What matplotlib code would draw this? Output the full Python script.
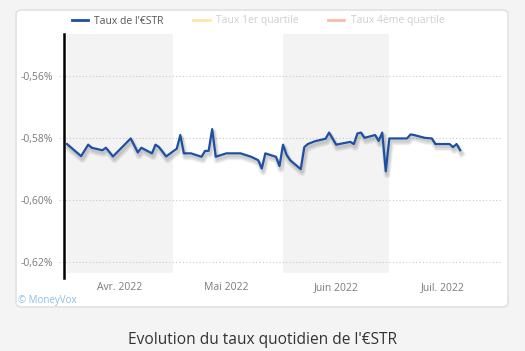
import numpy as np
import matplotlib.pyplot as plt
import matplotlib.dates as mdates
import matplotlib.patheffects as pe
from matplotlib.patches import FancyBboxPatch
from matplotlib.lines import Line2D
import datetime as dt

# daily €STR (in %)
dates = ['2022-04-01', '2022-04-05', '2022-04-07', '2022-04-08', '2022-04-11', '2022-04-12',
         '2022-04-14', '2022-04-19', '2022-04-21', '2022-04-22', '2022-04-25', '2022-04-26',
         '2022-04-27', '2022-04-29', '2022-05-02', '2022-05-03', '2022-05-04', '2022-05-06',
         '2022-05-09', '2022-05-10', '2022-05-11', '2022-05-12', '2022-05-13', '2022-05-16',
         '2022-05-20', '2022-05-23', '2022-05-25', '2022-05-26', '2022-05-27', '2022-05-30',
         '2022-05-31', '2022-06-01', '2022-06-02', '2022-06-03', '2022-06-06', '2022-06-07',
         '2022-06-08', '2022-06-10', '2022-06-13', '2022-06-14', '2022-06-16', '2022-06-20',
         '2022-06-21', '2022-06-22', '2022-06-23', '2022-06-24', '2022-06-27', '2022-06-28',
         '2022-06-29', '2022-06-30', '2022-07-01', '2022-07-06', '2022-07-07', '2022-07-08',
         '2022-07-11', '2022-07-13', '2022-07-14', '2022-07-18', '2022-07-19', '2022-07-20',
         '2022-07-21']
estr = [-0.5820, -0.5859, -0.5822, -0.5832, -0.5840, -0.5832,
        -0.5860, -0.5802, -0.5847, -0.5832, -0.5850, -0.5822,
        -0.5830, -0.5860, -0.5835, -0.5791, -0.5850, -0.5850,
        -0.5861, -0.5842, -0.5842, -0.5772, -0.5861, -0.5850,
        -0.5850, -0.5861, -0.5872, -0.5899, -0.5850, -0.5861,
        -0.5891, -0.5822, -0.5855, -0.5872, -0.5901, -0.5830,
        -0.5820, -0.5811, -0.5803, -0.5783, -0.5822, -0.5813,
        -0.5820, -0.5786, -0.5783, -0.5800, -0.5791, -0.5810,
        -0.5783, -0.5908, -0.5802, -0.5802, -0.5789, -0.5791,
        -0.5800, -0.5802, -0.5820, -0.5820, -0.5830, -0.5820,
        -0.5840]

yticks = [-0.56, -0.58, -0.60, -0.62]
ylabels = ['-0,56%', '-0,58%', '-0,60%', '-0,62%']
months = ['2022-04-16', '2022-05-16', '2022-06-16', '2022-07-16']
month_labels = ['Avr. 2022', 'Mai 2022', 'Juin 2022', 'Juil. 2022']
bands = [('2022-04-01', '2022-05-01'), ('2022-06-01', '2022-07-01')]

plt.rcParams['font.family'] = ['Open Sans', 'DejaVu Sans']

W, H = 525, 351
fig = plt.figure(figsize=(W / 100, H / 100), dpi=100)
fig.patch.set_facecolor('#f4f4f4')

# white card
card = FancyBboxPatch((16 / W, 1 - 307 / H), (508 - 16) / W, (307 - 10) / H,
                      boxstyle='round,pad=0,rounding_size=0.012',
                      transform=fig.transFigure, facecolor='white',
                      edgecolor='#e2e2e2', linewidth=1.2, zorder=-5)
fig.patches.append(card)

ax = fig.add_axes([64 / W, 1 - 278 / H, (500 - 64) / W, (278 - 34) / H])
ax.set_zorder(2)
ax.set_facecolor('none')

# soft drop shadow under the line
shadow = [pe.SimpleLineShadow(offset=(1, -2.5), shadow_color='black', alpha=0.05, linewidth=5),
          pe.SimpleLineShadow(offset=(1, -2.5), shadow_color='black', alpha=0.07, linewidth=3.5),
          pe.SimpleLineShadow(offset=(1, -2), shadow_color='black', alpha=0.08, linewidth=2),
          pe.Normal()]
x = [dt.datetime.fromisoformat(d) for d in dates]
ax.plot(x, estr, color='#1d4fa3', lw=1.6, zorder=3, path_effects=shadow)

for a, b in bands:
    ax.axvspan(dt.datetime.fromisoformat(a), dt.datetime.fromisoformat(b),
               ymin=5 / 244, ymax=1, color='#f3f3f3', zorder=0, lw=0)

ax.set_xlim(dt.datetime(2022, 3, 31, 4), dt.datetime(2022, 8, 1, 6))
ax.set_ylim(-0.62516, -0.54655)

for yv in yticks:
    ax.plot([-0.012, 1.0], [yv, yv], transform=ax.get_yaxis_transform(), clip_on=False,
            color='#c8c8c8', lw=0.8, ls=(0, (1, 2)), zorder=1)

ax.set_yticks(yticks)
ax.set_yticklabels(ylabels)
ax.set_xticks([dt.datetime.fromisoformat(m) for m in months])
ax.set_xticklabels(month_labels)
ax.tick_params(axis='both', length=0, labelsize=7.5, labelcolor='#7a7a7a')
ax.tick_params(axis='y', pad=8)
ax.tick_params(axis='x', pad=3)

for s in ['top', 'right', 'bottom']:
    ax.spines[s].set_visible(False)
ax.spines['left'].set_color('black')
ax.spines['left'].set_linewidth(1.8)

handles = [Line2D([], [], color='#1d4fa3', lw=2),
           Line2D([], [], color='#fde7a6', lw=2),
           Line2D([], [], color='#f9bba4', lw=2)]
leg = fig.legend(handles, ["Taux de l'€STR", 'Taux 1er quartile', 'Taux 4ème quartile'],
                 loc='center', bbox_to_anchor=(258 / W, 1 - 21 / H), ncol=3, frameon=False,
                 fontsize=7.5, handlelength=1.6, handletextpad=0.6, columnspacing=2.8)
for t, c in zip(leg.get_texts(), ['#555555', '#cfcfcf', '#cfcfcf']):
    t.set_color(c)

fig.text(18 / W, 1 - 300 / H, '© MoneyVox', fontsize=7, color='#8cc0e6', va='center')
fig.text(262 / W, 1 - 340 / H, "Evolution du taux quotidien de l'€STR", fontsize=11.2,
         color='#333333', ha='center', va='center')

fig.savefig('out.png', dpi=100, facecolor=fig.get_facecolor())
